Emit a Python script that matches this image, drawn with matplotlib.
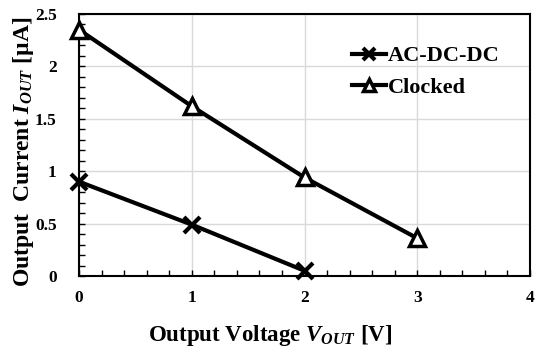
import matplotlib
matplotlib.use("Agg")
import matplotlib.pyplot as plt
from matplotlib.ticker import MultipleLocator

plt.rcParams['font.family'] = 'Liberation Serif'
plt.rcParams['font.weight'] = 'bold'
plt.rcParams['mathtext.fontset'] = 'custom'
plt.rcParams['mathtext.it'] = 'Liberation Serif:italic'
plt.rcParams['mathtext.rm'] = 'Liberation Serif:bold'

# data
v_acdc = [0, 1, 2]
i_acdc = [0.9, 0.49, 0.05]
v_clk = [0, 1, 2, 3]
i_clk = [2.35, 1.62, 0.94, 0.36]

fig = plt.figure(figsize=(5.5, 3.54), dpi=100)
ax = fig.add_axes([79/550, 1-276/354, (530-79)/550, (276-14)/354])

ax.plot(v_acdc, i_acdc, color='black', lw=3, marker='x', ms=11, mew=3,
        label='AC-DC-DC', clip_on=False, zorder=3)
ax.plot(v_clk, i_clk, color='black', lw=3, marker='^', ms=11, mew=2.5,
        mfc='white', label='Clocked', clip_on=False, zorder=3)

ax.set_xlim(0, 4)
ax.set_ylim(0, 2.5)
ax.xaxis.set_major_locator(MultipleLocator(1))
ax.xaxis.set_minor_locator(MultipleLocator(0.2))
ax.yaxis.set_major_locator(MultipleLocator(0.5))
ax.yaxis.set_minor_locator(MultipleLocator(0.1))
ax.yaxis.set_major_formatter(plt.FuncFormatter(lambda v, p: f'{v:g}'))
ax.grid(True, which='major', color='#d9d9d9', lw=1)
ax.set_axisbelow(True)
ax.tick_params(which='both', direction='in', top=False, right=False,
               labelsize=12.5, length=4, width=1)
ax.tick_params(axis='y', pad=16)
ax.tick_params(axis='x', pad=10)
for s in ax.spines.values():
    s.set_linewidth(1.5)

ax.set_xlabel('Output Voltage $V_{OUT}$ [V]', fontsize=16.5,
              fontweight='bold')
ax.set_ylabel('Output  Current $I_{OUT}$ [µA]', fontsize=17,
              fontweight='bold')
ax.xaxis.set_label_coords(0.423, -0.18)
ax.yaxis.set_label_coords(-0.095, 0.473)

leg = ax.legend(loc='upper right', bbox_to_anchor=(0.977, 0.955), frameon=False,
                fontsize=16, handlelength=1.5, handletextpad=0.1,
                labelspacing=0.5, markerscale=0.75)

fig.savefig('out.png', dpi=100)
